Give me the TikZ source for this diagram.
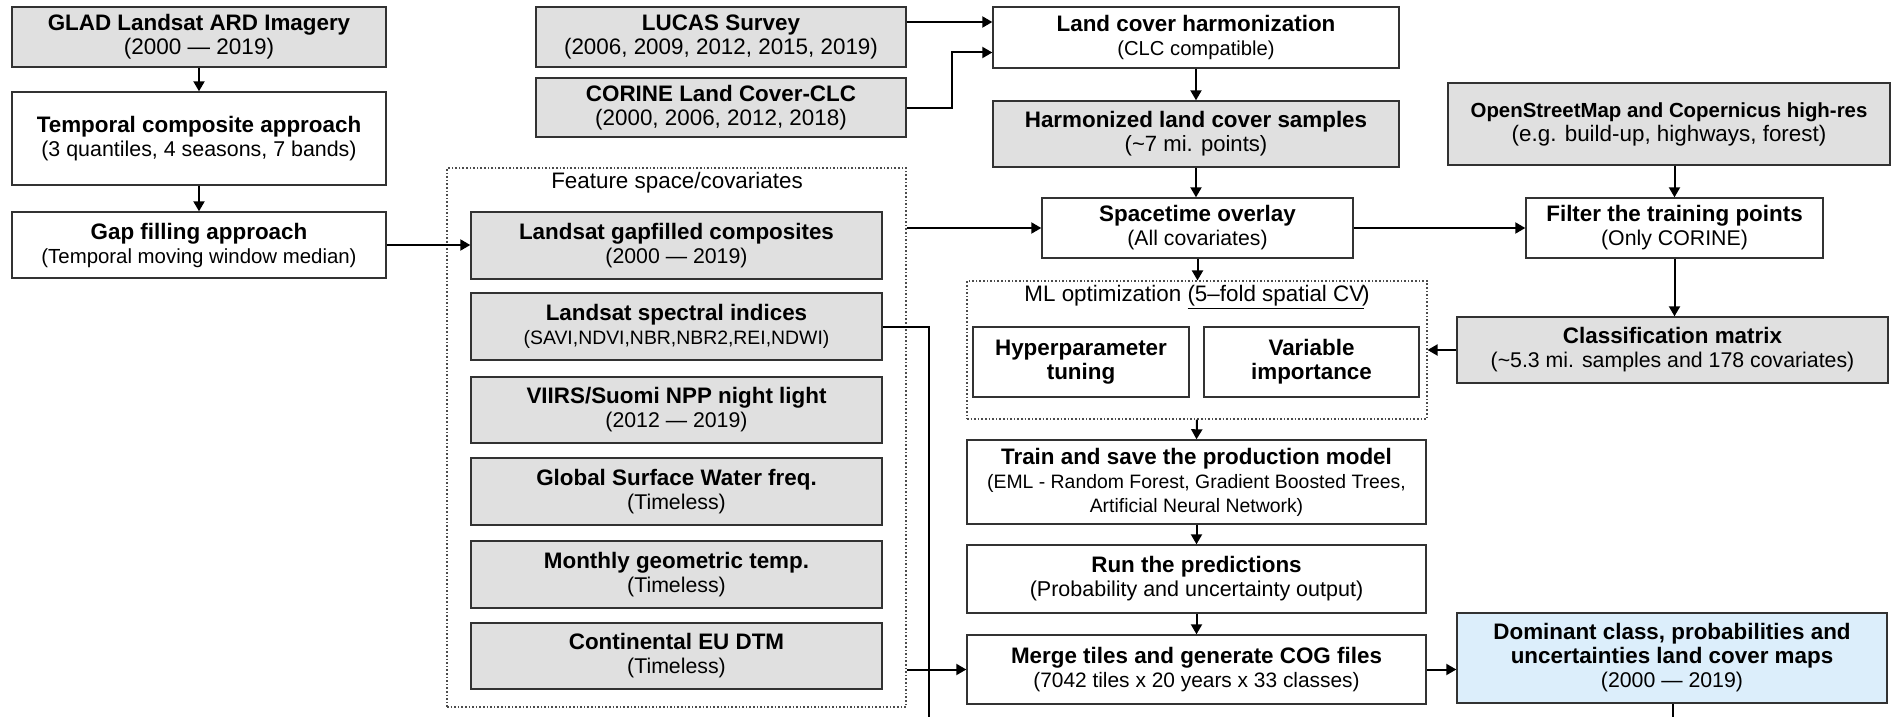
\documentclass[tikz,border=0pt]{standalone}
\usepackage{fontspec}
\setmainfont{Liberation Sans}
\usetikzlibrary{arrows.meta}
\definecolor{boxgray}{RGB}{224,224,224}
\definecolor{boxblue}{RGB}{220,238,251}
\definecolor{edgecol}{RGB}{50,50,50}
\newcommand\mybox[7]{%
  \pgfmathsetmacro\bxcx{(#3+#5)/2}\pgfmathsetmacro\bxcy{(#4+#6)/2}%
  \pgfmathsetmacro\bxw{#5-#3}\pgfmathsetmacro\bxh{#6-#4}%
  \node[#1, minimum width=\bxw pt, minimum height=\bxh pt] (#2) at (\bxcx,\bxcy) {#7};}
\newcommand\subt[2]{{\fontsize{#1}{24}\selectfont #2}}
\tikzset{
  base/.style={draw=edgecol, line width=1.4pt, inner sep=0pt, align=center,
    font=\fontsize{22.4}{24}\selectfont},
  wbox/.style={base, fill=white},
  gbox/.style={base, fill=boxgray},
  bbox/.style={base, fill=boxblue},
  grp/.style={draw=gray!60!black, line width=1.1pt, dash pattern=on 1.6pt off 2pt, inner sep=0pt},
  grptitle/.style={inner sep=0pt, font=\fontsize{22.4}{24}\selectfont},
  arr/.style={line width=2pt, -{Triangle[length=10pt,width=11pt]}},
  ln/.style={line width=2pt}
}
\begin{document}
\begin{tikzpicture}[x=1pt,y=-1pt]
\useasboundingbox (0,0) rectangle (1891,717);
% groups
\mybox{grp}{feat}{447}{168}{906}{707}{}
\node[grptitle] (feattitle) at (677,183) {Feature space/covariates};
\mybox{grp}{ml}{967}{281}{1427}{419}{}
\node[grptitle] (mltitle) at (1197,297) {ML optimization \underline{(5–fold spatial CV}\kern-0.1em)};
% left column
\mybox{gbox}{glad}{12}{7}{386}{67}{\textbf{GLAD Landsat ARD Imagery}\\\subt{22.5}{(2000 — 2019)}}
\mybox{wbox}{temp}{12}{92}{386}{185}{\textbf{Temporal composite approach}\\\subt{21.4}{(3 quantiles, 4 seasons, 7 bands)}}
\mybox{wbox}{gap}{12}{212}{386}{278}{\textbf{Gap filling approach}\\\subt{20.4}{(Temporal moving window median)}}
% sources
\mybox{gbox}{lucas}{536}{7}{906}{67}{\textbf{LUCAS Survey}\\\subt{22.4}{(2006, 2009, 2012, 2015, 2019)}}
\mybox{gbox}{corine}{536}{78}{906}{137}{\textbf{CORINE Land Cover-CLC}\\\subt{22.4}{(2000, 2006, 2012, 2018)}}
% features
\mybox{gbox}{f1}{471}{212}{882}{279}{\textbf{Landsat gapfilled composites}\\\subt{21.3}{(2000 — 2019)}}
\mybox{gbox}{f2}{471}{293}{882}{360}{\textbf{Landsat spectral indices}\\\subt{19.4}{(SAVI,NDVI,NBR,NBR2,REI,NDWI)}}
\mybox{gbox}{f3}{471}{377}{882}{443}{\textbf{VIIRS/Suomi NPP night light}\\\subt{21.3}{(2012 — 2019)}}
\mybox{gbox}{f4}{471}{458}{882}{525}{\textbf{Global Surface Water freq.}\\\subt{21.3}{(Timeless)}}
\mybox{gbox}{f5}{471}{541}{882}{608}{\textbf{Monthly geometric temp.}\\\subt{21.3}{(Timeless)}}
\mybox{gbox}{f6}{471}{623}{882}{689}{\textbf{Continental EU DTM}\\\subt{21.3}{(Timeless)}}
% middle column
\mybox{wbox}{lch}{993}{7}{1399}{68}{\textbf{Land cover harmonization}\\\subt{20.2}{(CLC compatible)}}
\mybox{gbox}{hls}{993}{101}{1399}{167}{\textbf{Harmonized land cover samples}\\\subt{22.1}{(\textasciitilde7 mi. points)}}
\mybox{wbox}{sto}{1042}{198}{1353}{258}{\textbf{Spacetime overlay}\\\subt{21.2}{(All covariates)}}
\mybox{wbox}{hyper}{973}{327}{1189}{397}{\textbf{Hyperparameter}\\\textbf{tuning}}
\mybox{wbox}{varimp}{1204}{327}{1419}{397}{\textbf{Variable}\\\textbf{importance}}
\mybox{wbox}{train}{967}{440}{1426}{524}{\fontsize{22.4}{21.5}\selectfont\textbf{Train and save the production model}\\{\fontsize{19.4}{21.5}\selectfont(EML - Random Forest, Gradient Boosted Trees,}\\{\fontsize{19.4}{21.5}\selectfont Artificial Neural Network)}}
\mybox{wbox}{run}{967}{545}{1426}{613}{\textbf{Run the predictions}\\\subt{21.5}{(Probability and uncertainty output)}}
\mybox{wbox}{merge}{967}{635}{1426}{704}{\textbf{Merge tiles and generate COG files}\\\subt{20.9}{(7042 tiles x 20 years x 33 classes)}}
% right column
\mybox{gbox}{osm}{1448}{83}{1890}{165}{\fontsize{20.4}{23}\selectfont\textbf{OpenStreetMap and Copernicus high-res}\\(e.g. build-up, highways, forest)}
\mybox{wbox}{filter}{1526}{198}{1823}{258}{\textbf{Filter the training points}\\\subt{21.3}{(Only CORINE)}}
\mybox{gbox}{cm}{1457}{317}{1888}{383}{\textbf{Classification matrix}\\\subt{21.3}{(\textasciitilde5.3 mi. samples and 178 covariates)}}
\mybox{bbox}{dom}{1457}{613}{1887}{703}{\fontsize{22.4}{23}\selectfont\textbf{Dominant class, probabilities and}\\\textbf{uncertainties land cover maps}\\\subt{21.3}{(2000 — 2019)}}
% free ends at the bottom edge
\coordinate (b1) at (929,717);
\coordinate (b2) at (1673,717);
% connectors
\draw[arr] (glad.south) -- (temp.north);
\draw[arr] (temp.south) -- (gap.north);
\draw[arr] (gap.east) -- (gap.east -| f1.west);
\coordinate (l1) at ([yshift=15pt]lucas.east);
\draw[arr] (l1) -- (l1 -| lch.west);
\draw[arr] (corine.east) -- ++(45,0) |- ([yshift=-15pt]lch.west);
\draw[arr] (lch.south) -- (hls.north);
\draw[arr] (hls.south) -- (hls.south |- sto.north);
\draw[arr] (sto.west -| feat.east) -- (sto.west);
\draw[arr] (sto.east) -- (filter.west);
\draw[arr] (filter.north |- osm.south) -- (filter.north);
\draw[arr] (filter.south) -- (filter.south |- cm.north);
\draw[arr] (cm.west) -- (ml.east);
\draw[arr] (sto.south) -- (sto.south |- ml.north);
\draw[arr] (ml.south) -- (train.north);
\draw[arr] (train.south) -- (run.north);
\draw[arr] (run.south) -- (merge.north);
\draw[ln] (f2.east) -| (b1);
\draw[arr] (merge.west -| feat.east) -- (merge.west);
\draw[arr] (merge.east) -- (merge.east -| dom.west);
\draw[ln] (dom.south -| b2) -- (b2);
\end{tikzpicture}
\end{document}
